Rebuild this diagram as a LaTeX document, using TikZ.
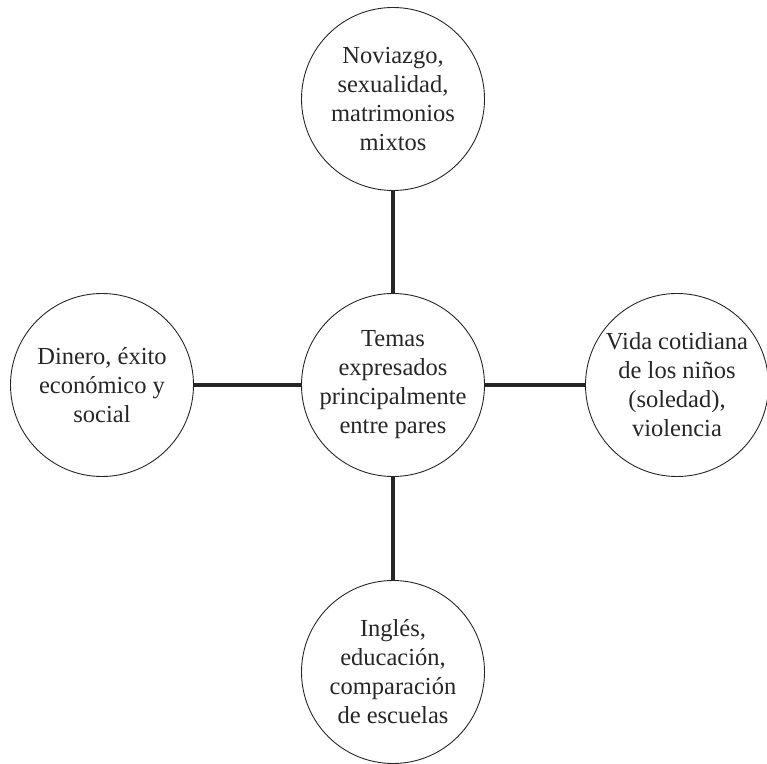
\documentclass[tikz,border=0pt]{standalone}
\usepackage{fontspec}
\setmainfont{Liberation Serif}
\begin{document}
\begin{tikzpicture}[x=1pt,y=1pt,
  topic/.style={circle,draw=black!85,line width=0.9pt,minimum size=183pt,inner sep=0pt,
    align=center,font=\fontsize{24.5}{29}\selectfont,text=black!85},
  link/.style={line width=4pt,draw=black!85}]
\useasboundingbox (0,0) rectangle (767,763);
% central topic and the four themes around it
\node[topic] (mid) at (393,378) {Temas\\expresados\\principalmente\\entre pares};
\node[topic] (top) at (393,664) {Noviazgo,\\sexualidad,\\matrimonios\\mixtos};
\node[topic] (left) at (102,378) {Dinero, éxito\\económico y\\social};
\node[topic] (right) at (677,378) {Vida cotidiana\\de los niños\\(soledad),\\violencia};
\node[topic] (bot) at (393,91) {Inglés,\\educación,\\comparación\\de escuelas};
% thick spokes from the centre
\draw[link] (top.south) -- (mid.north);
\draw[link] (mid.south) -- (bot.north);
\draw[link] (left.east) -- (mid.west);
\draw[link] (mid.east) -- (right.west);
\end{tikzpicture}
\end{document}
